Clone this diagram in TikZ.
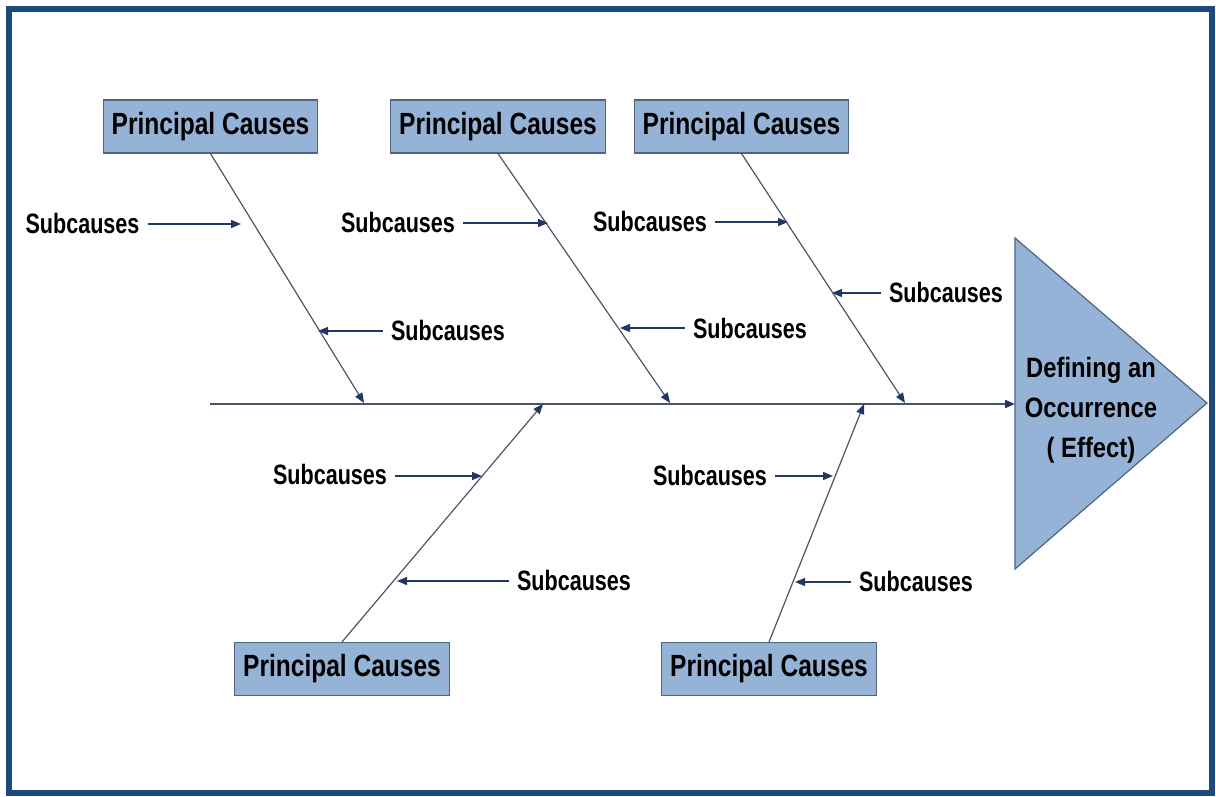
\documentclass[tikz,border=0pt]{standalone}
\usepackage{fontspec}
\usetikzlibrary{arrows.meta}
\newfontfamily\causefont[FakeStretch=0.8]{Liberation Sans}
\newfontfamily\subfont[FakeStretch=0.77]{Liberation Sans}
\newfontfamily\effectfont[FakeStretch=0.85]{Liberation Sans}
\definecolor{boxfill}{RGB}{149,179,215}
\definecolor{boxline}{RGB}{80,100,130}
\definecolor{arrowblue}{RGB}{31,56,100}
\definecolor{boneline}{RGB}{75,85,105}
\definecolor{frameblue}{RGB}{31,73,125}

\tikzset{every picture/.style={line width=0.75pt}}
\tikzset{
  causebox/.style={draw=boxline, fill=boxfill, line width=0.9pt, minimum width=161pt, minimum height=39.75pt, inner sep=0pt, font=\causefont\bfseries\fontsize{23}{28}\selectfont},
  sublabel/.style={inner sep=6pt, font=\subfont\bfseries\fontsize{21}{25}\selectfont},
  tip/.style={-{Triangle[length=7.5pt,width=6pt,color=arrowblue]}},
  bone/.style={draw=boneline, line width=0.9pt, tip},
  spine/.style={draw=boneline, line width=1.5pt, tip},
  subarrow/.style={draw=arrowblue, line width=1.1pt, tip}
}

\begin{document}
\begin{tikzpicture}[x=0.75pt,y=0.75pt,yscale=-1,xscale=1]
\useasboundingbox (0,0) rectangle (1216,796);

%Shape: Frame
\draw [frameblue, line width=5pt] (9,9) rectangle (1212,793);

%Shape: Effect triangle
\draw [boxline, fill=boxfill, line width=0.9pt] (1015,238) -- (1207,403) -- (1015,569) -- cycle;
\coordinate (effin) at (1015,404);
% Text Node
\node (effect) [align=center, font=\effectfont\bfseries\fontsize{21}{30}\selectfont] at (1091,410) {Defining an\\Occurrence\\( Effect)};

% Principal causes
\node (pc1) [causebox] at (210.5,126.5) {Principal Causes};
\node (pc2) [causebox] at (498,126.5) {Principal Causes};
\node (pc3) [causebox] at (741.5,126.5) {Principal Causes};
\node (pc4) [causebox] at (342,669) {Principal Causes};
\node (pc5) [causebox] at (769,669) {Principal Causes};

% Ends of the bones on the spine
\coordinate (tail) at (210,404);
\coordinate (h1) at (364,403);
\coordinate (h2) at (670,403);
\coordinate (h3) at (905,403);
\coordinate (h4) at (543,404);
\coordinate (h5) at (864,404);

%Straight Lines
\draw [spine] (tail) -- (effin);
\draw [bone] (pc1.south) -- (h1);
\draw [bone] (pc2.south) -- (h2);
\draw [bone] (pc3.south) -- (h3);
\draw [bone] (pc4.north) -- (h4);
\draw [bone] (pc5.north) -- (h5);

% Subcauses
\node (s1a) [sublabel] at (82.5,223) {Subcauses};
\node (s1b) [sublabel] at (448,330) {Subcauses};
\node (s2a) [sublabel] at (398,222) {Subcauses};
\node (s2b) [sublabel] at (750,328) {Subcauses};
\node (s3a) [sublabel] at (650,221) {Subcauses};
\node (s3b) [sublabel] at (946,292) {Subcauses};
\node (s4a) [sublabel] at (330,474) {Subcauses};
\node (s4b) [sublabel] at (574,580) {Subcauses};
\node (s5a) [sublabel] at (710,475) {Subcauses};
\node (s5b) [sublabel] at (916,581) {Subcauses};

\coordinate (t1a) at (241,224);
\coordinate (t1b) at (318,331);
\coordinate (t2a) at (548,223);
\coordinate (t2b) at (620,328);
\coordinate (t3a) at (788,222);
\coordinate (t3b) at (832,293);
\coordinate (t4a) at (482,476);
\coordinate (t4b) at (397,581);
\coordinate (t5a) at (833,476);
\coordinate (t5b) at (795,582);

\draw [subarrow] (s1a.east |- t1a) -- (t1a);
\draw [subarrow] (s1b.west |- t1b) -- (t1b);
\draw [subarrow] (s2a.east |- t2a) -- (t2a);
\draw [subarrow] (s2b.west |- t2b) -- (t2b);
\draw [subarrow] (s3a.east |- t3a) -- (t3a);
\draw [subarrow] (s3b.west |- t3b) -- (t3b);
\draw [subarrow] (s4a.east |- t4a) -- (t4a);
\draw [subarrow] (s4b.west |- t4b) -- (t4b);
\draw [subarrow] (s5a.east |- t5a) -- (t5a);
\draw [subarrow] (s5b.west |- t5b) -- (t5b);

\end{tikzpicture}
\end{document}
